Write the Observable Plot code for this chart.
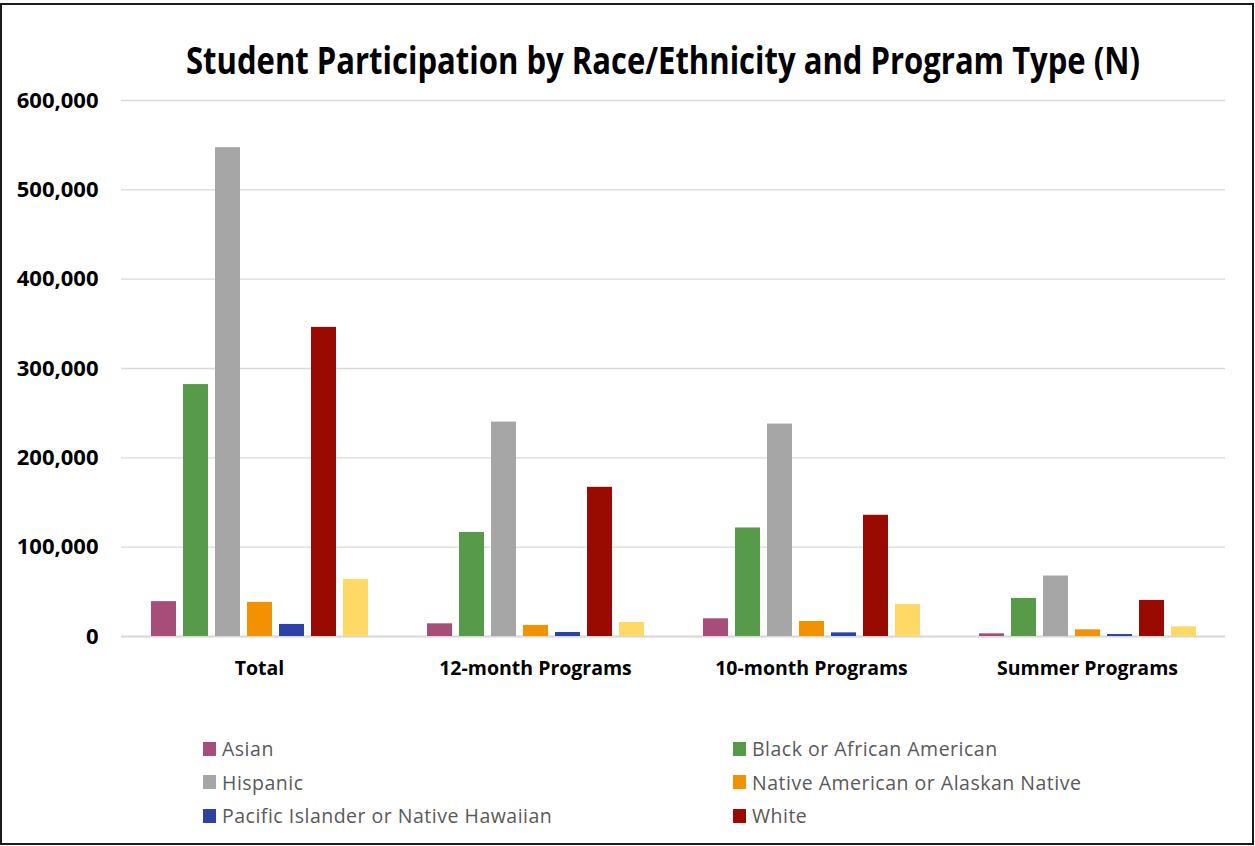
<!DOCTYPE html>
<html>
<head>
<meta charset="utf-8">
<script src="https://cdn.jsdelivr.net/npm/d3@7"></script>
<script src="https://cdn.jsdelivr.net/npm/@observablehq/plot@0.6"></script>
<style>
  html, body { margin: 0; padding: 0; background: #fff; }
  #wrap { position: relative; width: 1255px; height: 846px; overflow: hidden; background: #fff; }
  #frame { position: absolute; left: 0; top: 3px; width: 1254px; height: 842px; box-sizing: border-box; border: 2px solid #1a1a1a; pointer-events: none; }
  #title { position: absolute; left: 663px; top: 40px; white-space: nowrap; font-family: "Open Sans", sans-serif; font-weight: 700; font-size: 38px; line-height: 38px; color: #000; transform-origin: 50% 50%; }
  #chart { position: absolute; left: 0; top: 70px; }
  #legend { position: absolute; left: 203px; top: 732px; display: grid; grid-template-columns: 530px 420px; font-family: "Open Sans", sans-serif; font-size: 19.5px; letter-spacing: 0.5px; color: #595959; }
  .item { display: flex; align-items: center; height: 33.5px; white-space: nowrap; }
  .sw { width: 13px; height: 14px; margin-right: 6px; flex: none; }
</style>
</head>
<body>
<div id="wrap">
  <div id="title"></div>
  <div id="chart"></div>
  <div id="legend"></div>
  <div id="frame"></div>
</div>
<script>
const titleText = "Student Participation by Race/Ethnicity and Program Type (N)";
const categories = ["Total", "12-month Programs", "10-month Programs", "Summer Programs"];
const series = [
  "Asian",
  "Black or African American",
  "Hispanic",
  "Native American or Alaskan Native",
  "Pacific Islander or Native Hawaiian",
  "White",
  "Two or More Races"
];
const colors = ["#a64d79", "#569a4a", "#a6a6a6", "#f39200", "#2e41a7", "#990a00", "#ffd966"];

// values per series, in category order
const asian    = [39000, 14200, 19800, 3000];
const black    = [282000, 116500, 121500, 42600];
const hispanic = [547200, 240000, 237800, 67700];
const nativeAm = [38200, 12400, 16800, 7500];
const pacific  = [13500, 4500, 4100, 2200];
const white    = [346000, 167000, 135700, 40400];
const multi    = [64000, 15700, 35900, 10800];
const seriesValues = [asian, black, hispanic, nativeAm, pacific, white, multi];

// legend in the reference shows only the first six entries (last one is cut off)
const legendSeries = series.slice(0, 6);

const yTicks = [0, 100000, 200000, 300000, 400000, 500000, 600000];

const data = series.flatMap((s, i) =>
  categories.map((c, j) => ({category: c, race: s, value: seriesValues[i][j]}))
);

const chart = Plot.plot({
  width: 1255,
  height: 620,
  marginTop: 30,
  marginBottom: 54,
  marginLeft: 120,
  marginRight: 29,
  style: {fontFamily: '"Open Sans", sans-serif', background: "transparent", color: "#000"},
  fx: {domain: categories, paddingInner: 0, paddingOuter: 0, label: null},
  x: {domain: series, paddingInner: 0.22, paddingOuter: 0.9, axis: null},
  y: {domain: [0, 600000]},
  color: {domain: series, range: colors},
  marks: [
    Plot.gridY(yTicks, {stroke: "#d9d9d9", strokeOpacity: 1, strokeWidth: 1.3}),
    Plot.ruleY([0], {stroke: "#d9d9d9", strokeOpacity: 1, strokeWidth: 2}),
    Plot.barY(data, {fx: "category", x: "race", y: "value", fill: "race"}),
    Plot.axisY(yTicks, {tickSize: 0, tickPadding: 23, tickFormat: d3.format(","), fontSize: 22, fontWeight: "bold", label: null}),
    Plot.axisFx({anchor: "bottom", tickSize: 0, tickPadding: 25, fontSize: 19.5, fontWeight: "bold", label: null})
  ]
});
document.getElementById("chart").appendChild(chart);

// title, condensed horizontally to mimic the narrow original face
const t = document.getElementById("title");
t.textContent = titleText;
const w = t.getBoundingClientRect().width;
const k = 954 / w;
t.style.transform = `translateX(-50%) scaleX(${k})`;

// legend
const legend = document.getElementById("legend");
legendSeries.forEach((s) => {
  const i = series.indexOf(s);
  const item = document.createElement("div");
  item.className = "item";
  const sw = document.createElement("span");
  sw.className = "sw";
  sw.style.background = colors[i];
  const label = document.createElement("span");
  label.textContent = s;
  item.appendChild(sw);
  item.appendChild(label);
  legend.appendChild(item);
});
</script>
</body>
</html>
